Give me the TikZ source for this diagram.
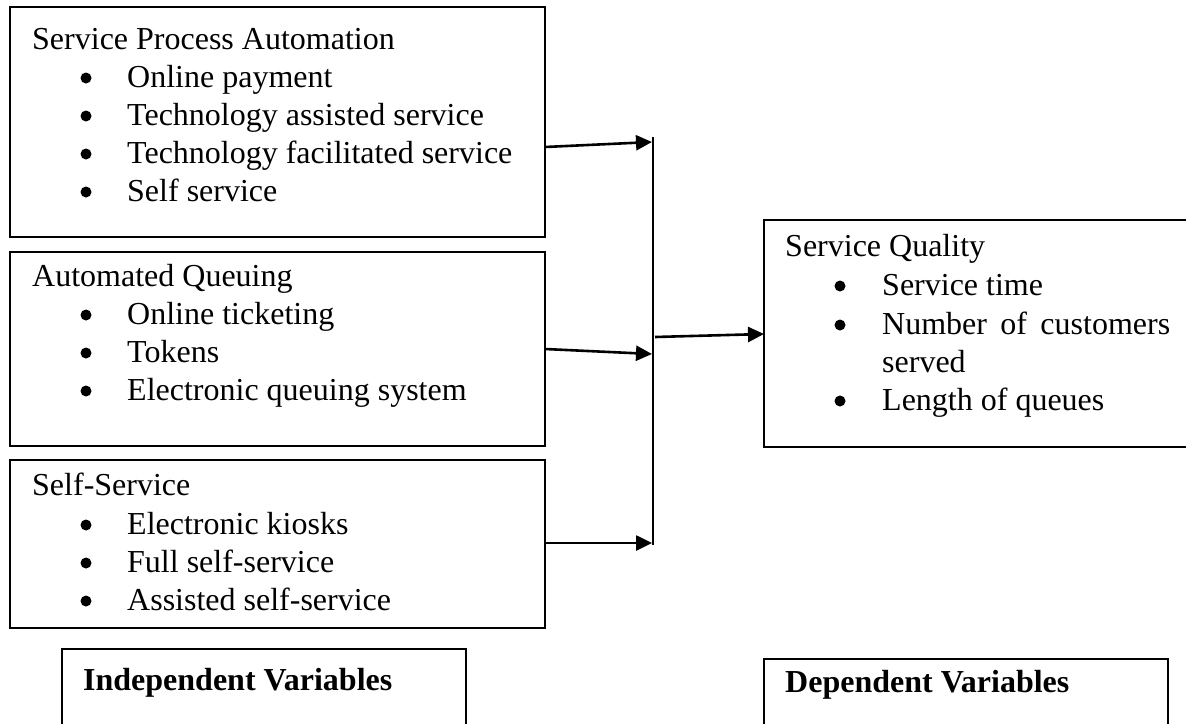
\documentclass[tikz,border=0pt]{standalone}
\usepackage{fontspec}
\setmainfont{Liberation Serif}
\usetikzlibrary{arrows.meta}
\begin{document}
\begin{tikzpicture}[x=1pt,y=-1pt,
  box/.style={draw, line width=1.8pt, anchor=north west, inner sep=0pt, outer sep=0pt},
  txt/.style={anchor=base west, inner sep=0pt, font=\fontsize{32}{38}\selectfont},
  dot/.style={circle, fill=black, inner sep=0pt, minimum size=11pt},
  hd/.style={anchor=base west, inner sep=0pt, font=\fontsize{32}{38}\selectfont\bfseries},
  conn/.style={line width=2.6pt, -{Triangle[length=16pt,width=15pt]}},
  bar/.style={line width=2.2pt}]
\useasboundingbox (0,0) rectangle (1186,723);
\clip (0,0) rectangle (1186,723);
% boxes
\node[box, minimum width=535, minimum height=230] (b1) at (10,7) {};
\node[box, minimum width=535, minimum height=194] (b2) at (10,252) {};
\node[box, minimum width=535, minimum height=168] (b3) at (10,460) {};
\node[box, minimum width=426, minimum height=227] (sq) at (764,220) {};
\node[box, minimum width=404, minimum height=100] (iv) at (62,649) {};
\node[box, minimum width=404, minimum height=100] (dv) at (764,659) {};
% box 1
\node[txt] (t10) at (32,49) {Service Process Automation};
\node[dot] (u11) at (86,78) {};  \node[txt] (t11) at (127,87) {Online payment};
\node[dot] (u12) at (86,116) {}; \node[txt] (t12) at (127,125) {Technology assisted service};
\node[dot] (u13) at (86,154) {}; \node[txt] (t13) at (127,163) {Technology facilitated service};
\node[dot] (u14) at (86,192) {}; \node[txt] (t14) at (127,201) {Self service};
% box 2
\node[txt] (t20) at (32,286) {Automated Queuing};
\node[dot] (u21) at (86,315) {}; \node[txt] (t21) at (127,324) {Online ticketing};
\node[dot] (u22) at (86,353) {}; \node[txt] (t22) at (127,362) {Tokens};
\node[dot] (u23) at (86,391) {}; \node[txt] (t23) at (127,400) {Electronic queuing system};
% box 3
\node[txt] (t30) at (32,495) {Self-Service};
\node[dot] (u31) at (86,525) {}; \node[txt] (t31) at (127,534) {Electronic kiosks};
\node[dot] (u32) at (86,563) {}; \node[txt] (t32) at (127,572) {Full self-service};
\node[dot] (u33) at (86,601) {}; \node[txt] (t33) at (127,610) {Assisted self-service};
% service quality
\node[txt] (t40) at (785,256) {Service Quality};
\node[dot] (u41) at (840,286) {}; \node[txt] (t41) at (882,295) {Service time};
\node[dot] (u42) at (840,325) {}; \node[txt] (t42) at (882,334) {\makebox[288pt][s]{Number of customers}};
\node[txt] (t43) at (882,372) {served};
\node[dot] (u44) at (840,401) {}; \node[txt] (t44) at (882,410) {Length of queues};
% labels
\node[hd] (h1) at (83,690) {Independent Variables};
\node[hd] (h2) at (785,692) {Dependent Variables};
% connectors
\coordinate (s1) at (545,147); \coordinate (e1) at (652,142);
\coordinate (s2) at (545,349); \coordinate (e2) at (652,354);
\coordinate (s3) at (545,543); \coordinate (e3) at (652,543);
\coordinate (vt) at (653,137); \coordinate (vb) at (653,545);
\coordinate (s4) at (655,337); \coordinate (e4) at (764,334);
\draw[bar] (vt) -- (vb);
\draw[conn] (s1) -- (e1);
\draw[conn] (s2) -- (e2);
\draw[conn] (s3) -- (e3);
\draw[conn] (s4) -- (e4);
\end{tikzpicture}
\end{document}
